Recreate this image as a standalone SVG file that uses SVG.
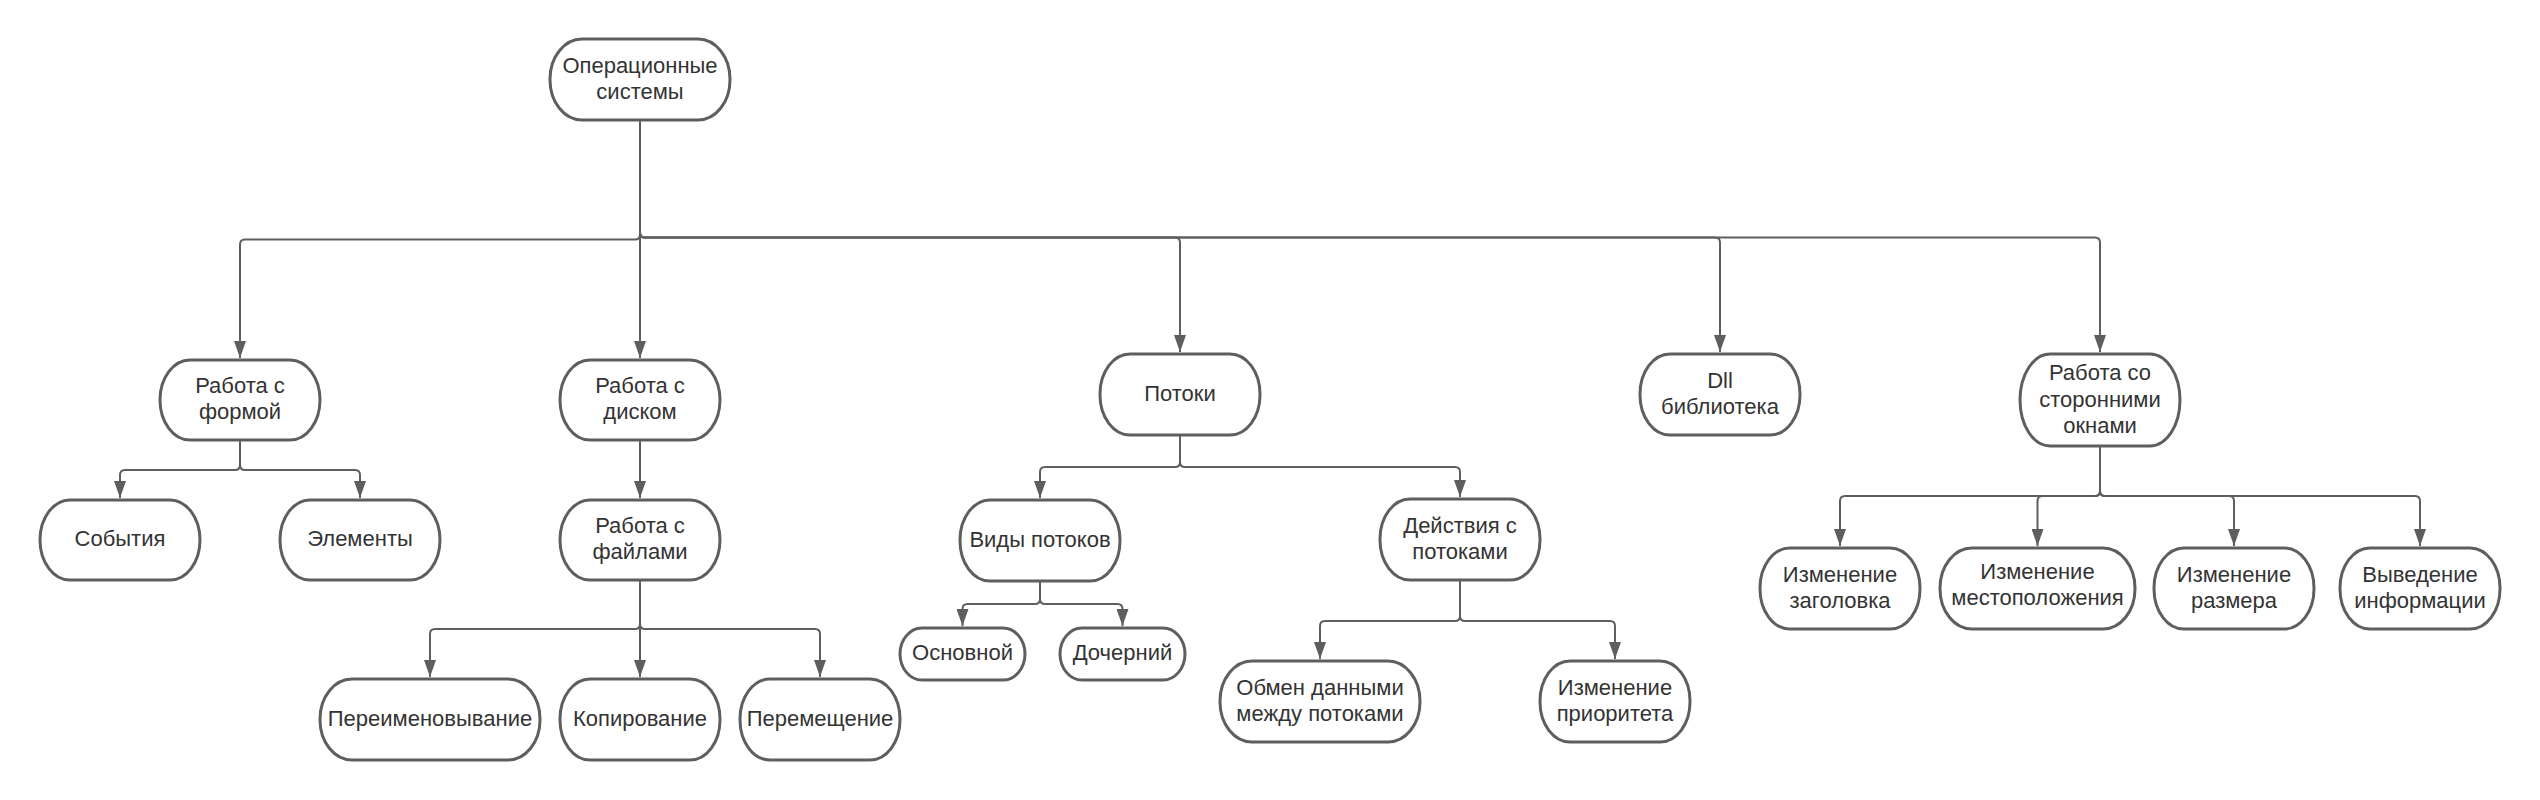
<svg xmlns="http://www.w3.org/2000/svg" width="2540" height="800" viewBox="0 0 2540 800">
<style>
.n{fill:#fff;stroke:#5e5e5e;stroke-width:3}
.t{font-family:"Liberation Sans",Arial,sans-serif;font-size:22px;fill:#333;text-anchor:middle}
.c{fill:none;stroke:#5e5e5e;stroke-width:2;marker-end:url(#ah)}
</style>
<defs>
<marker id="ah" viewBox="0 0 17 12" refX="17" refY="6" markerWidth="17" markerHeight="12" markerUnits="userSpaceOnUse" orient="auto">
<path d="M0,0 L17,6 L0,12 z" fill="#5e5e5e"/>
</marker>
</defs>
<rect width="2540" height="800" fill="#fff"/>
<g id="connectors">
<path class="c" d="M640,120 V234.5 Q640,239.5 635,239.5 H245 Q240,239.5 240,244.5 V358"/>
<path class="c" d="M640,120 V358"/>
<path class="c" d="M640,120 V232.5 Q640,237.5 645,237.5 H1175 Q1180,237.5 1180,242.5 V352"/>
<path class="c" d="M640,120 V232.5 Q640,237.5 645,237.5 H1715 Q1720,237.5 1720,242.5 V352"/>
<path class="c" d="M640,120 V232.5 Q640,237.5 645,237.5 H2095 Q2100,237.5 2100,242.5 V352"/>
<path class="c" d="M240,440 V465 Q240,470 235,470 H125 Q120,470 120,475 V498"/>
<path class="c" d="M240,440 V465 Q240,470 245,470 H355 Q360,470 360,475 V498"/>
<path class="c" d="M640,440 V498"/>
<path class="c" d="M640,580 V624 Q640,629 635,629 H435 Q430,629 430,634 V677"/>
<path class="c" d="M640,580 V677"/>
<path class="c" d="M640,580 V624 Q640,629 645,629 H815 Q820,629 820,634 V677"/>
<path class="c" d="M1180,435 V462 Q1180,467 1175,467 H1045 Q1040,467 1040,472 V498"/>
<path class="c" d="M1180,435 V462 Q1180,467 1185,467 H1455 Q1460,467 1460,472 V497"/>
<path class="c" d="M1040,581 V599 Q1040,604 1035,604 H967.5 Q962.5,604 962.5,609 V626"/>
<path class="c" d="M1040,581 V599 Q1040,604 1045,604 H1117.5 Q1122.5,604 1122.5,609 V626"/>
<path class="c" d="M1460,580 V616 Q1460,621 1455,621 H1325 Q1320,621 1320,626 V659"/>
<path class="c" d="M1460,580 V616 Q1460,621 1465,621 H1610 Q1615,621 1615,626 V659"/>
<path class="c" d="M2100,446 V491 Q2100,496 2095,496 H1845 Q1840,496 1840,501 V546"/>
<path class="c" d="M2100,446 V491 Q2100,496 2095,496 H2042.5 Q2037.5,496 2037.5,501 V546"/>
<path class="c" d="M2100,446 V491 Q2100,496 2105,496 H2229 Q2234,496 2234,501 V546"/>
<path class="c" d="M2100,446 V491 Q2100,496 2105,496 H2415 Q2420,496 2420,501 V546"/>
</g>
<g id="root">
<rect class="n" x="550" y="39" width="180" height="81" rx="32" ry="40"/>
<text class="t" x="640" y="72.8">Операционные</text>
<text class="t" x="640" y="99.2">системы</text>
</g>
<g id="forma">
<rect class="n" x="160" y="360" width="160" height="80" rx="30" ry="40"/>
<text class="t" x="240" y="393">Работа с</text>
<text class="t" x="240" y="419">формой</text>
</g>
<g id="sobytiya">
<rect class="n" x="40" y="500" width="160" height="80" rx="30" ry="40"/>
<text class="t" x="120" y="546">События</text>
</g>
<g id="elementy">
<rect class="n" x="280" y="500" width="160" height="80" rx="30" ry="40"/>
<text class="t" x="360" y="546">Элементы</text>
</g>
<g id="disk">
<rect class="n" x="560" y="360" width="160" height="80" rx="30" ry="40"/>
<text class="t" x="640" y="393">Работа с</text>
<text class="t" x="640" y="419">диском</text>
</g>
<g id="faily">
<rect class="n" x="560" y="500" width="160" height="80" rx="30" ry="40"/>
<text class="t" x="640" y="533">Работа с</text>
<text class="t" x="640" y="559">файлами</text>
</g>
<g id="pereim">
<rect class="n" x="320" y="679" width="220" height="81" rx="32" ry="40"/>
<text class="t" x="430" y="725.5">Переименовывание</text>
</g>
<g id="kopir">
<rect class="n" x="560" y="679" width="160" height="81" rx="30" ry="40"/>
<text class="t" x="640" y="725.5">Копирование</text>
</g>
<g id="peremesh">
<rect class="n" x="740" y="679" width="160" height="81" rx="30" ry="40"/>
<text class="t" x="820" y="725.5">Перемещение</text>
</g>
<g id="potoki">
<rect class="n" x="1100" y="354" width="160" height="81" rx="30" ry="40"/>
<text class="t" x="1180" y="400.5">Потоки</text>
</g>
<g id="vidy">
<rect class="n" x="960" y="500" width="160" height="81" rx="30" ry="40"/>
<text class="t" x="1040" y="546.5">Виды потоков</text>
</g>
<g id="osnovnoy">
<rect class="n" x="900" y="628" width="125" height="52" rx="22" ry="26"/>
<text class="t" x="962.5" y="660">Основной</text>
</g>
<g id="docherniy">
<rect class="n" x="1060" y="628" width="125" height="52" rx="22" ry="26"/>
<text class="t" x="1122.5" y="660">Дочерний</text>
</g>
<g id="deystviya">
<rect class="n" x="1380" y="499" width="160" height="81" rx="30" ry="40"/>
<text class="t" x="1460" y="532.5">Действия с</text>
<text class="t" x="1460" y="558.5">потоками</text>
</g>
<g id="obmen">
<rect class="n" x="1220" y="661" width="200" height="81" rx="32" ry="40"/>
<text class="t" x="1320" y="694.5">Обмен данными</text>
<text class="t" x="1320" y="720.5">между потоками</text>
</g>
<g id="prioritet">
<rect class="n" x="1540" y="661" width="150" height="81" rx="30" ry="40"/>
<text class="t" x="1615" y="694.5">Изменение</text>
<text class="t" x="1615" y="720.5">приоритета</text>
</g>
<g id="dll">
<rect class="n" x="1640" y="354" width="160" height="81" rx="30" ry="40"/>
<text class="t" x="1720" y="387.5">Dll</text>
<text class="t" x="1720" y="413.5">библиотека</text>
</g>
<g id="okna">
<rect class="n" x="2020" y="354" width="160" height="92" rx="30" ry="46"/>
<text class="t" x="2100" y="380">Работа со</text>
<text class="t" x="2100" y="406.5">сторонними</text>
<text class="t" x="2100" y="433">окнами</text>
</g>
<g id="zagolovok">
<rect class="n" x="1760" y="548" width="160" height="81" rx="30" ry="40"/>
<text class="t" x="1840" y="581.5">Изменение</text>
<text class="t" x="1840" y="607.5">заголовка</text>
</g>
<g id="mestopol">
<rect class="n" x="1940" y="548" width="195" height="81" rx="32" ry="40"/>
<text class="t" x="2037.5" y="579">Изменение</text>
<text class="t" x="2037.5" y="605">местоположения</text>
</g>
<g id="razmer">
<rect class="n" x="2154" y="548" width="160" height="81" rx="30" ry="40"/>
<text class="t" x="2234" y="581.5">Изменение</text>
<text class="t" x="2234" y="607.5">размера</text>
</g>
<g id="vyvedenie">
<rect class="n" x="2340" y="548" width="160" height="81" rx="30" ry="40"/>
<text class="t" x="2420" y="581.5">Выведение</text>
<text class="t" x="2420" y="607.5">информации</text>
</g>
</svg>
